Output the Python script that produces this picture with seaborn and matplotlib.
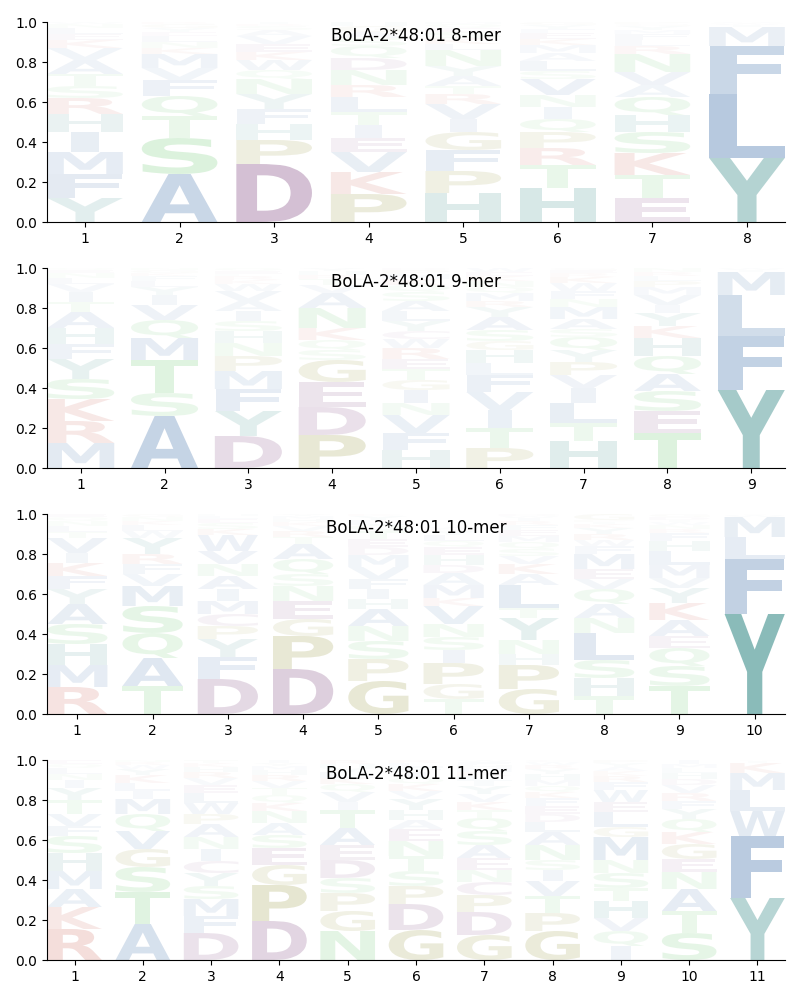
import matplotlib
matplotlib.use("Agg")
import matplotlib.pyplot as plt
import seaborn as sns
from matplotlib.textpath import TextPath
from matplotlib.patches import PathPatch
from matplotlib.font_manager import FontProperties
from matplotlib.transforms import Affine2D

allele = "BoLA-2*48:01"
peptide_lengths = [8, 9, 10, 11]

# letters per position, bottom -> top, with their frequencies
mer8_letters = ["YFMIHRSTAVKELNW", "ASTQFVMKNLEYGR", "DPHFYNQWKEVASRI", "PKVEITLRNDQSAGH",
                "HPFGIVRTAYNLKSEQM", "HTRPQINVSLAMKEFYG", "ETKSHQAVNRLFMYGP", "YLFMIWV"]
mer8_heights = [
    [.12, .12, .11, .10, .09, .08, .06, .06, .07, .06, .04, .03, .03, .02, .01],
    [.24, .18, .11, .10, .08, .06, .07, .03, .03, .03, .02, .02, .02, .01],
    [.29, .12, .08, .075, .075, .075, .045, .05, .04, .04, .04, .03, .02, .01, .01],
    [.14, .11, .10, .07, .065, .065, .075, .06, .075, .06, .06, .04, .03, .03, .02],
    [.145, .11, .105, .09, .065, .075, .05, .04, .05, .05, .08, .03, .03, .03, .02, .02, .01],
    [.17, .115, .085, .08, .065, .06, .06, .08, .04, .05, .04, .04, .03, .03, .02, .02, .015],
    [.12, .115, .11, .105, .085, .09, .06, .065, .09, .04, .03, .03, .02, .02, .01, .01],
    [.32, .32, .24, .095, .01, .008, .007],
]

mer9_letters = ["MRKSYFHATIVLNEQ", "ASTMQVIYLFKGN", "DYFMPNHSIAVWKRLEQ", "PDEGSQKNAVTRHY",
                "HFVNIGTERWCYLASQKMPD", "PTIVFLHGSAYRMQNKEW", "HTLIVPYQSAMNFWKREG",
                "TESAQHKYIVMPLRN", "YFLMIW"]
mer9_heights = [
    [.125, .11, .11, .10, .10, .075, .08, .08, .05, .05, .04, .03, .025, .015, .01],
    [.26, .115, .165, .11, .09, .075, .05, .04, .03, .025, .015, .015, .01],
    [.16, .125, .11, .09, .075, .065, .06, .05, .05, .05, .05, .035, .02, .02, .01, .015, .015],
    [.165, .14, .125, .11, .05, .05, .06, .10, .075, .04, .03, .02, .02, .015],
    [.09, .085, .09, .06, .065, .05, .055, .05, .055, .045, .04, .05, .05, .05, .045, .035, .03, .025, .02, .01],
    [.10, .10, .09, .09, .085, .06, .065, .045, .055, .065, .05, .03, .04, .03, .03, .025, .02, .02],
    [.135, .09, .10, .075, .065, .065, .06, .065, .04, .05, .06, .04, .04, .04, .03, .02, .015, .01],
    [.175, .11, .10, .085, .09, .09, .06, .065, .04, .05, .04, .03, .025, .02, .02],
    [.39, .27, .205, .115, .01, .01],
]

mer10_letters = ["RMHSAYFKIVTLNQE", "TAQSMVFRYWLKNG", "DFYPCMIANVWKSELH", "DPGENSQATRVKHMY",
                 "GPSNAHIFVMDETQLYK", "TGPISNVKMADHEQLYRW", "GPHNYTLAKVSQMEFRIWD",
                 "THSLNAQVEMFWRYKIPG", "TSQEAKYVMLHFRNWIDG", "YFLMWI"]
mer10_heights = [
    [.135, .11, .105, .10, .10, .075, .065, .065, .05, .075, .03, .03, .025, .02, .015],
    [.14, .14, .125, .135, .10, .06, .05, .05, .08, .035, .03, .02, .02, .015],
    [.175, .11, .09, .065, .06, .065, .06, .065, .06, .065, .08, .03, .03, .02, .015, .01],
    [.225, .165, .085, .09, .075, .06, .075, .075, .035, .03, .025, .02, .015, .015, .01],
    [.165, .11, .09, .075, .085, .05, .05, .05, .06, .06, .04, .04, .04, .03, .025, .02, .01],
    [.075, .075, .105, .065, .065, .065, .09, .04, .065, .06, .04, .05, .04, .03, .03, .02, .01, .01],
    [.125, .12, .055, .07, .11, .05, .115, .055, .05, .04, .035, .035, .03, .03, .025, .02, .015, .01, .01],
    [.09, .09, .09, .135, .075, .07, .075, .05, .05, .075, .04, .03, .03, .03, .02, .01, .01, .03],
    [.14, .10, .09, .06, .08, .085, .075, .05, .065, .07, .05, .04, .02, .02, .015, .01, .015, .015],
    [.50, .275, .11, .10, .01, .005],
]

mer11_letters = ["RKAMHSFVTYINLQE", "ATSGVQMILKYWRN", "DFMSYCINAPWLEVRHKT", "DPGESANKQTVRHMYI",
                 "NGPSDEATIVQKLYHR", "GDPSTNEAHYVKQIFLR", "GDPCNEASQTKVYILRMHFW",
                 "GPTVISNALDEFKQMHYRWC", "IQVHTSNMGLEWFRKAYP", "STANEGKQYFRVDHLMI", "YFWLMKIV"]
mer11_heights = [
    [.155, .11, .09, .09, .09, .085, .05, .06, .07, .06, .04, .03, .03, .02, .02],
    [.18, .16, .125, .09, .09, .085, .075, .04, .04, .04, .03, .02, .015, .01],
    [.135, .085, .085, .065, .065, .06, .06, .06, .065, .05, .055, .05, .04, .035, .03, .025, .02, .015],
    [.195, .18, .10, .085, .065, .06, .06, .04, .04, .035, .035, .03, .025, .02, .015, .015],
    [.145, .10, .09, .075, .09, .075, .085, .09, .04, .05, .04, .03, .03, .02, .02, .02],
    [.15, .13, .09, .075, .075, .075, .06, .045, .05, .055, .04, .035, .03, .03, .025, .02, .015],
    [.125, .115, .085, .065, .06, .06, .065, .07, .065, .04, .04, .04, .04, .025, .025, .02, .02, .015, .015, .01],
    [.145, .09, .085, .075, .055, .05, .075, .065, .05, .04, .04, .04, .03, .03, .03, .03, .025, .02, .015, .01],
    [.07, .075, .065, .085, .065, .075, .065, .115, .05, .075, .05, .06, .04, .03, .025, .02, .02, .015],
    [.135, .11, .11, .085, .065, .075, .06, .065, .05, .04, .04, .04, .03, .03, .025, .02, .02],
    [.31, .31, .125, .105, .085, .05, .01, .005],
]

panel_letters = [mer8_letters, mer9_letters, mer10_letters, mer11_letters]
panel_heights = [mer8_heights, mer9_heights, mer10_heights, mer11_heights]

# amino-acid colour groups
group_members = ["DEC", "PG", "MIWALFV", "NTSQ", "RK", "HY"]
group_rgb = [(.42, .16, .42), (.47, .47, 0.0), (.13, .35, .61),
             (.25, .73, .28), (.74, .18, .12), (.09, .47, .46)]
palette = sns.color_palette(group_rgb)
letter_color = {ch: palette[i] for i, mem in enumerate(group_members) for ch in mem}

sns.set_style("ticks", {"axes.edgecolor": "black", "xtick.color": "black",
                        "ytick.color": "black", "text.color": "black",
                        "axes.labelcolor": "black"})
plt.rcParams['font.family'] = ['DejaVu Sans']

fp = FontProperties(family="DejaVu Sans", weight="bold")
glyphs = {}


def glyph(ch):
    if ch not in glyphs:
        glyphs[ch] = TextPath((0, 0), ch, size=1, prop=fp)
    return glyphs[ch]


BOX_W = 0.8
max_hstretch = BOX_W / glyph("E").get_extents().width


def draw_letter(ax, ch, xc, y0, h, color, alpha):
    tp = glyph(ch)
    ext = tp.get_extents()
    hstretch = min(BOX_W / ext.width, max_hstretch)
    cw = hstretch * ext.width
    tr = (Affine2D().translate(-ext.x0, -ext.y0)
          .scale(hstretch, h / ext.height)
          .translate(xc - cw / 2, y0))
    path = tr.transform_path(tp)
    ax.add_patch(PathPatch(path, facecolor=color, edgecolor="none", lw=0,
                           alpha=max(0.0, min(1.0, alpha))))


fig, axes = plt.subplots(4, 1, figsize=(8, 10), dpi=100)
fig.subplots_adjust(left=0.059, right=0.981, top=0.978, bottom=0.04, hspace=0.23)

for ax, L, letters, heights in zip(axes, peptide_lengths, panel_letters, panel_heights):
    for i, (col_l, col_h) in enumerate(zip(letters, heights)):
        pos = i + 1
        y = 0.0
        for ch, h in zip(col_l, col_h):
            draw_letter(ax, ch, pos, y, h, letter_color[ch], h)
            y += h
    ax.set_xlim(0.6, L + 0.4)
    ax.set_ylim(0, 1)
    ax.set_xticks(range(1, L + 1))
    ax.set_yticks([0, 0.2, 0.4, 0.6, 0.8, 1.0])
    ax.tick_params(labelsize=10)
    ax.text(0.5, 0.93, f"{allele} {L}-mer", transform=ax.transAxes,
            ha="center", va="center", fontsize=12)
    sns.despine(ax=ax)

fig.savefig("out.png", dpi=100)
